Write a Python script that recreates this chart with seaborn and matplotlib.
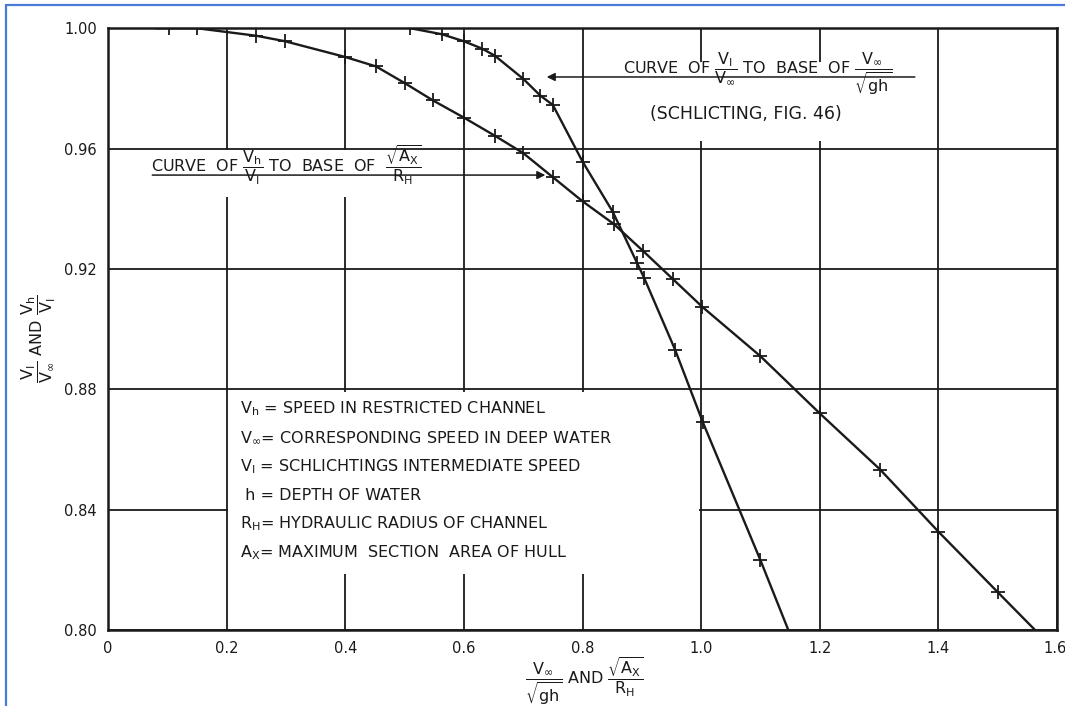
import matplotlib
matplotlib.use("Agg")
import matplotlib.pyplot as plt
import matplotlib.transforms as mtransforms
import seaborn as sns
import pandas as pd
from matplotlib.patches import Rectangle
from matplotlib.lines import Line2D

# ---- data ----
# Curve of Vh/VI to base of sqrt(Ax)/RH
a_x = [0.08, 0.103, 0.150, 0.250, 0.298, 0.399, 0.452, 0.500, 0.548, 0.600, 0.652,
       0.700, 0.750, 0.800, 0.853, 0.902, 0.952, 1.002, 1.100, 1.200, 1.302, 1.400,
       1.500, 1.563]
a_y = [1.000, 1.000, 1.000, 0.9975, 0.9957, 0.9905, 0.9873, 0.9818, 0.9760, 0.9703,
       0.9643, 0.9585, 0.9505, 0.9425, 0.9349, 0.9260, 0.9167, 0.9074, 0.8910, 0.8720,
       0.8533, 0.8327, 0.8126, 0.800]
# Curve of VI/Vinf to base of Vinf/sqrt(gh)  (Schlichting, fig. 46)
b_x = [0.510, 0.563, 0.601, 0.631, 0.652, 0.700, 0.729, 0.750, 0.800, 0.851, 0.892,
       0.904, 0.956, 1.003, 1.100, 1.147]
b_y = [1.000, 0.998, 0.9956, 0.9932, 0.9909, 0.9832, 0.9776, 0.9745, 0.9557, 0.939,
       0.922, 0.917, 0.8932, 0.869, 0.8232, 0.800]

x_ticks = [0, 0.2, 0.4, 0.6, 0.8, 1.0, 1.2, 1.4, 1.6]
x_ticklabels = ["0", "0.2", "0.4", "0.6", "0.8", "1.0", "1.2", "1.4", "1.6"]
y_ticks = [0.80, 0.84, 0.88, 0.92, 0.96, 1.00]
y_ticklabels = ["0.80", "0.84", "0.88", "0.92", "0.96", "1.00"]

definitions = [
    r"$\mathregular{V_h}$ = SPEED IN RESTRICTED CHANNEL",
    r"$\mathregular{V_\infty}$= CORRESPONDING SPEED IN DEEP WATER",
    r"$\mathregular{V_I}$ = SCHLICHTINGS INTERMEDIATE SPEED",
    r" h = DEPTH OF WATER",
    r"$\mathregular{R_H}$= HYDRAULIC RADIUS OF CHANNEL",
    r"$\mathregular{A_X}$= MAXIMUM  SECTION  AREA OF HULL",
]

sns.set_theme(style="white")
plt.rcParams["font.family"] = ["DejaVu Sans"]
plt.rcParams["mathtext.fontset"] = "dejavusans"

fig = plt.figure(figsize=(10.65, 7.06), dpi=100)
ax = fig.add_axes([0.1014, 0.1076, 0.8911, 0.8524])
ink = "#1a1a1a"

ax.set_xlim(0, 1.6)
ax.set_ylim(0.80, 1.00)
ax.set_xticks(x_ticks)
ax.set_xticklabels(x_ticklabels)
ax.set_yticks(y_ticks)
ax.set_yticklabels(y_ticklabels)
ax.tick_params(length=0, labelsize=10.5, colors=ink, pad=8)
last = ax.get_xticklabels()[-1]
last.set_ha("right")
last.set_transform(last.get_transform() +
                   mtransforms.ScaledTranslation(7 / 72, 0, fig.dpi_scale_trans))
ax.grid(True, color=ink, linewidth=1.3)
ax.set_axisbelow(True)
for s in ax.spines.values():
    s.set_color(ink)
    s.set_linewidth(1.8)

# white masks where the original grid is interrupted
ax.add_patch(Rectangle((0.203, 0.8185), 0.793, 0.0605, facecolor="white",
                       edgecolor="none", zorder=1.5))
ax.add_patch(Rectangle((0.83, 0.9625), 0.54, 0.0262, facecolor="white",
                       edgecolor="none", zorder=1.5))
ax.add_patch(Rectangle((0.06, 0.9440), 0.52, 0.0157, facecolor="white",
                       edgecolor="none", zorder=1.5))

df_a = pd.DataFrame({"x": a_x, "y": a_y})
df_b = pd.DataFrame({"x": b_x, "y": b_y})
sns.lineplot(data=df_a, x="x", y="y", ax=ax, color=ink, linewidth=1.7, sort=False,
             marker="+", markersize=10, markeredgewidth=1.3, markeredgecolor=ink,
             markevery=list(range(1, len(a_x) - 1)), zorder=3)
sns.lineplot(data=df_b, x="x", y="y", ax=ax, color=ink, linewidth=1.7, sort=False,
             marker="+", markersize=10, markeredgewidth=1.3, markeredgecolor=ink,
             markevery=list(range(0, len(b_x) - 1)), zorder=3)

# curve labels with leader arrows
ax.annotate("", xy=(0.735, 0.9838), xytext=(1.365, 0.9838),
            arrowprops=dict(arrowstyle="-|>", color=ink, lw=1.1, mutation_scale=12),
            zorder=4)
ax.text(0.868, 0.9848,
        r"CURVE  OF $\mathregular{\dfrac{V_I}{V_\infty}}$ TO  BASE  OF $\mathregular{\dfrac{V_\infty}{\sqrt{gh}}}$",
        fontsize=11.5, color=ink, ha="left", va="baseline", zorder=4)
ax.text(1.075, 0.9715, "(SCHLICTING, FIG. 46)", fontsize=12.5, color=ink,
        ha="center", va="center", zorder=4)

ax.annotate("", xy=(0.742, 0.9512), xytext=(0.07, 0.9512),
            arrowprops=dict(arrowstyle="-|>", color=ink, lw=1.1, mutation_scale=12),
            zorder=4)
ax.text(0.072, 0.9522,
        r"CURVE  OF $\mathregular{\dfrac{V_h}{V_I}}$ TO  BASE  OF  $\mathregular{\dfrac{\sqrt{A_X}}{R_H}}$",
        fontsize=11.5, color=ink, ha="left", va="baseline", zorder=4)

for i, t in enumerate(definitions):
    ax.text(0.222, 0.8735 - i * 0.00955, t, fontsize=11.5, color=ink,
            ha="left", va="center", zorder=4)

ax.set_xlabel("")
ax.set_ylabel("")
fig.text(0.549, 0.036,
         r"$\mathregular{\dfrac{V_\infty}{\sqrt{gh}}}$ AND $\mathregular{\dfrac{\sqrt{A_X}}{R_H}}$",
         fontsize=11.5, color=ink, ha="center", va="center")
fig.text(0.036, 0.52,
         r"$\mathregular{\dfrac{V_I}{V_\infty}}$ AND $\mathregular{\dfrac{V_h}{V_I}}$",
         fontsize=11.5, color=ink, ha="center", va="center", rotation=90)

# blue frame of the scanned picture
fig.add_artist(Line2D([6 / 1065, 6 / 1065], [0, 1 - 5 / 706], transform=fig.transFigure,
                      color="#4a7bd6", linewidth=1.6))
fig.add_artist(Line2D([6 / 1065, 1], [1 - 5 / 706, 1 - 5 / 706], transform=fig.transFigure,
                      color="#4a7bd6", linewidth=1.6))

fig.savefig("out.png", dpi=100)
